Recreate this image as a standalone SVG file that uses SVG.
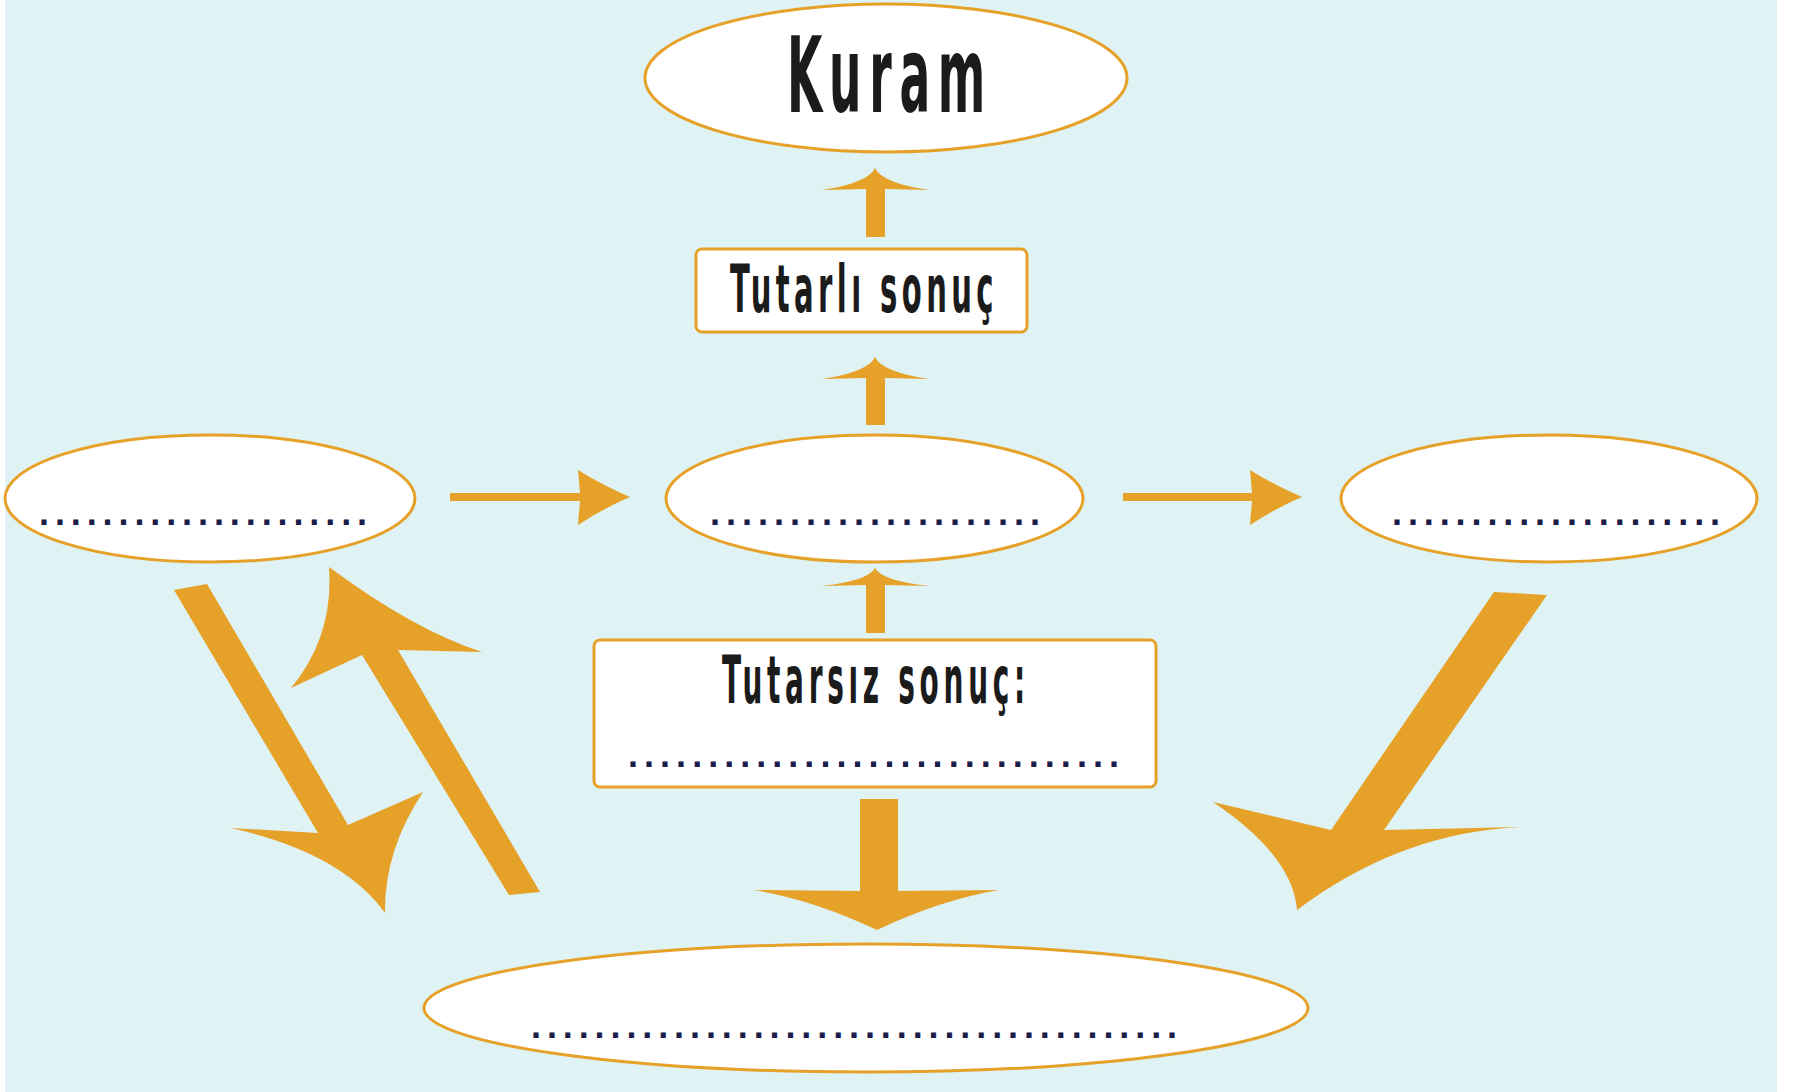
<svg xmlns="http://www.w3.org/2000/svg" width="1794" height="1092" viewBox="0 0 1794 1092">
<style>
.node{fill:#ffffff;stroke:#E6A128;stroke-width:3}
.arr{fill:#E6A128;stroke:none}
.lbl{font-family:"DejaVu Sans Condensed","DejaVu Sans","Liberation Sans",sans-serif;font-stretch:condensed;font-weight:bold;fill:#1b1b1b}
.dots{font-family:"Liberation Sans",Arial,sans-serif;font-weight:bold;font-size:36px;fill:#1d1d4a}
</style>
<rect x="0" y="0" width="1794" height="1092" fill="#ffffff"/>
<rect x="5" y="0" width="1772" height="1092" fill="#DFF2F4"/>

<g id="connectors">
  <!-- Tutarli sonuc -> Kuram -->
  <path class="arr" d="M875 168 Q868 183 822 190 L866 189 L866 237 L885 237 L885 189 L929 190 Q882 183 875 168 Z"/>
  <!-- middle -> Tutarli sonuc -->
  <path class="arr" d="M875 357 Q868 372 822 379 L866 378 L866 425 L885 425 L885 378 L929 379 Q882 372 875 357 Z"/>
  <!-- Tutarsiz -> middle -->
  <path class="arr" d="M875 568 Q868 581 821 586 L866 585 L866 633 L885 633 L885 585 L930 586 Q882 581 875 568 Z"/>
  <!-- left -> middle -->
  <path class="arr" d="M630 497 Q604 486 578 470 L580 493 L450 493 L450 501 L580 501 L578 525 Q604 508 630 497 Z"/>
  <!-- middle -> right -->
  <path class="arr" d="M1302 497 Q1276 486 1250 470 L1252 493 L1123 493 L1123 501 L1252 501 L1250 525 Q1276 508 1302 497 Z"/>
  <!-- Tutarsiz -> bottom (thick down) -->
  <path class="arr" d="M877 930 Q814 900 754 890 L860 891 L860 799 L898 799 L898 891 L999 890 Q940 900 877 930 Z"/>
  <!-- left ellipse -> bottom (down-right) -->
  <path class="arr" d="M174 590 L207 584 L348 825 L423 792 Q384 851 385 913 Q342 853 231 828 L318 833 Z"/>
  <!-- bottom -> left ellipse (up-left) -->
  <path class="arr" d="M540 892 L509 895 L362 655 L291 688 Q334 636 329 567 Q414 630 482 652 L398 650 Z"/>
  <!-- right ellipse -> bottom (down-left) -->
  <path class="arr" d="M1494 592 L1547 595 L1384 830 L1521 827 Q1401 832 1297 910 Q1293 856 1213 802 L1331 830 Z"/>
</g>

<g id="node-kuram">
  <ellipse class="node" cx="886" cy="78" rx="241" ry="74"/>
  <text class="lbl" x="787" y="112" font-size="105" letter-spacing="16" textLength="206" lengthAdjust="spacingAndGlyphs">Kuram</text>
</g>

<g id="node-tutarli">
  <rect class="node" x="696" y="249" width="331" height="83" rx="6"/>
  <text class="lbl" x="730" y="312" font-size="66" letter-spacing="9" textLength="268" lengthAdjust="spacingAndGlyphs">Tutarlı sonuç</text>
</g>

<g id="node-left">
  <ellipse class="node" cx="210" cy="498.5" rx="205" ry="63.5"/>
  <text class="dots" x="39" y="525" letter-spacing="5.9">.....................</text>
</g>

<g id="node-middle">
  <ellipse class="node" cx="874.5" cy="498.5" rx="208.5" ry="63.5"/>
  <text class="dots" x="710" y="525" letter-spacing="6">.....................</text>
</g>

<g id="node-right">
  <ellipse class="node" cx="1549" cy="498.5" rx="208" ry="63.5"/>
  <text class="dots" x="1392" y="525" letter-spacing="5.9">.....................</text>
</g>

<g id="node-tutarsiz">
  <rect class="node" x="594" y="640" width="562" height="147" rx="6"/>
  <text class="lbl" x="722" y="703" font-size="66" letter-spacing="10" textLength="308" lengthAdjust="spacingAndGlyphs">Tutarsız sonuç:</text>
  <text class="dots" x="628" y="767" letter-spacing="6.03">...............................</text>
</g>

<g id="node-bottom">
  <ellipse class="node" cx="866" cy="1008" rx="442" ry="64"/>
  <text class="dots" x="531" y="1038" letter-spacing="5.9">.........................................</text>
</g>
</svg>
